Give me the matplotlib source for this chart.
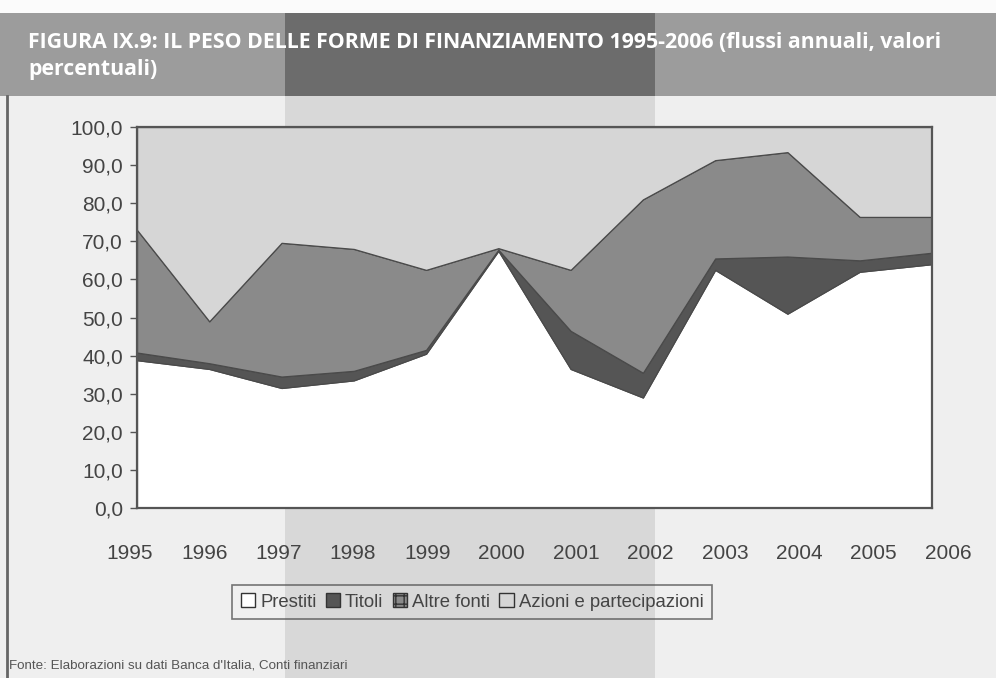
import matplotlib
matplotlib.use("Agg")
import matplotlib.pyplot as plt
from matplotlib.patches import Rectangle, Patch
from matplotlib.lines import Line2D

# ---- data (percent shares, flussi annuali) ----
years = [1995, 1996, 1997, 1998, 1999, 2000, 2001, 2002, 2003, 2004, 2005, 2006]
prestiti = [38.8, 36.5, 31.5, 33.5, 40.5, 67.5, 36.5, 29.0, 62.5, 51.0, 62.0, 64.0]
titoli = [2.0, 1.5, 3.0, 2.5, 1.0, 0.3, 10.0, 6.5, 3.0, 15.0, 3.0, 3.0]
altre_fonti = [32.2, 11.0, 35.1, 32.0, 21.0, 0.4, 16.0, 45.5, 25.8, 27.4, 11.4, 9.4]
azioni = [27.0, 51.0, 30.4, 32.0, 37.5, 31.8, 37.5, 19.0, 8.7, 6.6, 23.6, 23.6]
series_names = ["Prestiti", "Titoli", "Altre fonti", "Azioni e partecipazioni"]
y_ticks = [0, 10, 20, 30, 40, 50, 60, 70, 80, 90, 100]
title_l1 = "FIGURA IX.9: IL PESO DELLE FORME DI FINANZIAMENTO 1995-2006 (flussi annuali, valori"
title_l2 = "percentuali)"
source = "Fonte: Elaborazioni su dati Banca d'Italia, Conti finanziari"

W, H = 996, 678
colors = ["#ffffff", "#555555", "#8a8a8a", "#d6d6d6"]

plt.rcParams["font.family"] = ["Liberation Sans", "DejaVu Sans"]
fig = plt.figure(figsize=(W / 100, H / 100), dpi=100, facecolor="#efefef")

def fx(px):
    return px / W

def fy(py):
    return 1 - py / H

# background decorations (title bar, scan band)
deco = dict(transform=fig.transFigure, edgecolor="none", zorder=-10)
fig.patches.append(Rectangle((0, fy(13)), 1, 13 / H, facecolor="#fbfbfb", **deco))
fig.patches.append(Rectangle((0, fy(96)), 1, (96 - 13) / H, facecolor="#9c9c9c", **deco))
fig.patches.append(Rectangle((fx(285), fy(96)), fx(655 - 285), (96 - 13) / H,
                             facecolor="#6c6c6c", **deco))
fig.patches.append(Rectangle((fx(285), 0), fx(655 - 285), fy(96),
                             facecolor="#d8d8d8", **deco))
fig.lines.append(Line2D([fx(7), fx(7)], [0, fy(96)], transform=fig.transFigure,
                        color="#666666", lw=2, zorder=-5))

# title
tfam = ["Open Sans", "DejaVu Sans"]
fig.text(fx(28), fy(42), title_l1, color="white", fontweight="bold",
         fontsize=15.3, va="center", ha="left", family=tfam)
fig.text(fx(28), fy(70), title_l2, color="white", fontweight="bold",
         fontsize=15.3, va="center", ha="left", family=tfam)

# main axes
ax = fig.add_axes([fx(137), fy(508), fx(932 - 137), (508 - 127) / H])
ax.set_zorder(2)
ax.stackplot(years, prestiti, titoli, altre_fonti, azioni, colors=colors,
             edgecolor="#4a4a4a", linewidth=0.9)
ax.set_xlim(years[0], years[-1])
ax.set_ylim(0, 100)
ax.set_yticks(y_ticks)
ax.set_yticklabels([f"{v:.1f}".replace(".", ",") for v in y_ticks],
                   fontsize=15, color="#444444")
ax.tick_params(axis="y", direction="out", length=5, width=1, color="#555555", pad=5)
ax.set_xticks([])
for s in ax.spines.values():
    s.set_color("#555555")
    s.set_linewidth(1.6)

# category labels (offset front row, as in the 3D original)
lab = fig.add_axes([fx(130), fy(508), fx(948 - 130), 0.0001])
lab.set_zorder(2)
lab.set_xlim(years[0], years[-1])
lab.set_xticks(years)
lab.set_xticklabels([str(y) for y in years], fontsize=15, color="#444444")
lab.tick_params(axis="x", length=0, pad=26)
lab.set_yticks([])
for s in lab.spines.values():
    s.set_visible(False)
lab.patch.set_alpha(0)

# legend
handles = [
    Patch(facecolor=colors[0], edgecolor="#333333", linewidth=1),
    Patch(facecolor=colors[1], edgecolor="#333333", linewidth=1),
    Patch(facecolor=colors[2], edgecolor="#333333", linewidth=1, hatch="++"),
    Patch(facecolor=colors[3], edgecolor="#333333", linewidth=1),
]
leg = fig.legend(handles, series_names, loc="center",
                 bbox_to_anchor=(fx(472), fy(602)), ncol=4, fontsize=13.3,
                 frameon=True, fancybox=False, handlelength=0.8, handleheight=0.8,
                 handletextpad=0.25, columnspacing=0.5, borderpad=0.45,
                 labelcolor="#444444")
leg.set_zorder(3)
leg.get_frame().set_edgecolor("#555555")
leg.get_frame().set_facecolor("none")
leg.get_frame().set_linewidth(1.2)

# source
fig.text(fx(9), fy(665), source, fontsize=9.6, color="#555555", va="center", ha="left")

fig.savefig("out.png", dpi=100, facecolor=fig.get_facecolor())
